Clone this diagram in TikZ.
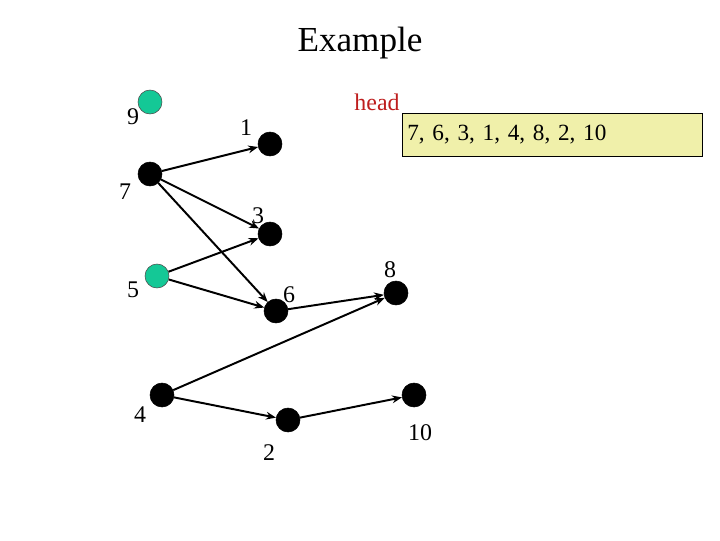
\documentclass[tikz,border=0pt]{standalone}
\usepackage{fontspec}
\setmainfont{Liberation Serif}
\usetikzlibrary{arrows.meta}
\definecolor{seedgreen}{RGB}{20,200,150}
\definecolor{listyellow}{RGB}{240,240,170}
\definecolor{headred}{RGB}{190,30,30}

\begin{document}
\begin{tikzpicture}[
  x=0.025cm, y=-0.025cm,
  vtx/.style={circle, draw=black, fill=black, inner sep=0pt, minimum size=0.6cm},
  src/.style={vtx, fill=seedgreen, draw=black!70, thin},
  lbl/.style={font=\fontsize{17}{20}\selectfont, inner sep=0pt},
  arrow/.style={-{Stealth[length=7pt,width=5.5pt]}, line width=1.4pt}
]
\useasboundingbox (0,0) rectangle (720,540);
\node[font=\fontsize{25}{30}\selectfont, anchor=base] (title) at (360,51) {Example};

% vertices
\node[src] (v9) at (150,102) {};
\node[vtx] (v1) at (270,144) {};
\node[vtx] (v7) at (150,174) {};
\node[vtx] (v3) at (270,234) {};
\node[src] (v5) at (157,276) {};
\node[vtx] (v6) at (276,311) {};
\node[vtx] (v8) at (396,293) {};
\node[vtx] (v4) at (162,395) {};
\node[vtx] (v2) at (288,420) {};
\node[vtx] (v10) at (414,395) {};

% labels
\node[lbl] (l9) at (133,117) {9};
\node[lbl] (l1) at (246,128) {1};
\node[lbl] (l7) at (125,192) {7};
\node[lbl] (l3) at (258,216) {3};
\node[lbl] (l5) at (133,290) {5};
\node[lbl] (l6) at (289,295) {6};
\node[lbl] (l8) at (390,270) {8};
\node[lbl] (l4) at (140,415) {4};
\node[lbl] (l2) at (269,453) {2};
\node[lbl] (l10) at (420,433) {10};

% topological order
\node[lbl, text=headred] (head) at (377,102) {head};
\node[lbl, font=\fontsize{16.5}{20}\selectfont, draw, fill=listyellow, anchor=west,
  inner xsep=0.125cm, inner ysep=0pt, text width=7.25cm, minimum height=1.075cm,
  align=left] (order) at (402,135) {7, 6, 3, 1, 4, 8, 2, 10};

\draw[arrow] (v7) -- (v1);
\draw[arrow] (v7) -- (v3);
\draw[arrow] (v7) -- (v6);
\draw[arrow] (v5) -- (v3);
\draw[arrow] (v5) -- (v6);
\draw[arrow] (v6) -- (v8);
\draw[arrow] (v4) -- (v8);
\draw[arrow] (v4) -- (v2);
\draw[arrow] (v2) -- (v10);
\end{tikzpicture}
\end{document}
